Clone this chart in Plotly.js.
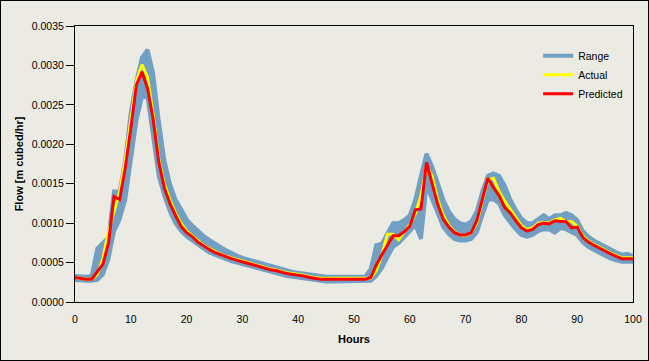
<!DOCTYPE html>
<html>
<head>
<meta charset="utf-8">
<script src="https://cdn.plot.ly/plotly-3.0.1.min.js"></script>
<style>
html,body{margin:0;padding:0;background:#ebebe3;}
#frame{width:647px;height:359px;border:1px solid #000;background:#ebebe3;}
#chart{width:647px;height:359px;}
</style>
</head>
<body>
<div id="frame"><div id="chart"></div></div>
<script>
var hours = [];
for (var h = 0; h <= 100; h++) hours.push(h);

var predicted = [0.00031,0.00030,0.00029,0.00029,0.00038,0.00048,0.00075,0.00134,0.00130,0.00170,
0.00220,0.00275,0.00292,0.00271,0.00232,0.00178,0.00145,0.00125,0.00110,0.00096,
0.00088,0.00083,0.00076,0.00071,0.00067,0.00063,0.00060,0.00057,0.00055,0.00053,
0.00051,0.00049,0.00047,0.00045,0.00043,0.00041,0.00040,0.00038,0.00036,0.00035,
0.00034,0.00033,0.00031,0.00030,0.00029,0.00029,0.00029,0.00029,0.00029,0.00029,
0.00029,0.00029,0.00029,0.00031,0.00047,0.00060,0.00072,0.00084,0.00084,0.00089,
0.00096,0.00117,0.00118,0.00177,0.00150,0.00124,0.00105,0.00095,0.00088,0.00085,
0.00085,0.00088,0.00103,0.00130,0.00157,0.00145,0.00135,0.00120,0.00113,0.00103,
0.00094,0.00090,0.00092,0.00098,0.00100,0.00099,0.00103,0.00102,0.00102,0.00094,
0.00095,0.00082,0.00076,0.00072,0.00068,0.00064,0.00061,0.00058,0.00055,0.00055,
0.00055];

var actual = [0.00031,0.00030,0.00029,0.00029,0.00035,0.00055,0.00090,0.00115,0.00140,0.00180,
0.00230,0.00280,0.00301,0.00285,0.00238,0.00182,0.00150,0.00130,0.00113,0.00100,
0.00090,0.00084,0.00077,0.00072,0.00068,0.00064,0.00061,0.00058,0.00056,0.00054,
0.00052,0.00050,0.00048,0.00046,0.00044,0.00042,0.00041,0.00039,0.00037,0.00036,
0.00035,0.00034,0.00032,0.00031,0.00030,0.00030,0.00030,0.00030,0.00030,0.00030,
0.00030,0.00030,0.00030,0.00030,0.00040,0.00060,0.00086,0.00086,0.00079,0.00088,
0.00098,0.00112,0.00135,0.00172,0.00160,0.00130,0.00110,0.00097,0.00089,0.00085,
0.00084,0.00088,0.00100,0.00128,0.00155,0.00157,0.00140,0.00128,0.00118,0.00107,
0.00097,0.00092,0.00094,0.00100,0.00101,0.00100,0.00104,0.00106,0.00102,0.00102,
0.00096,0.00084,0.00077,0.00073,0.00069,0.00065,0.00062,0.00059,0.00056,0.00056,
0.00056];

var rangeLow = [0.00028,0.00027,0.00027,0.00027,0.00028,0.00035,0.00055,0.00090,0.00105,0.00130,
0.00180,0.00230,0.00260,0.00260,0.00210,0.00160,0.00135,0.00115,0.00100,0.00090,
0.00083,0.00078,0.00072,0.00067,0.00063,0.00060,0.00057,0.00054,0.00052,0.00050,
0.00048,0.00046,0.00044,0.00042,0.00040,0.00038,0.00037,0.00035,0.00033,0.00032,
0.00031,0.00030,0.00028,0.00027,0.00026,0.00026,0.00026,0.00026,0.00026,0.00026,
0.00026,0.00026,0.00026,0.00027,0.00033,0.00043,0.00057,0.00070,0.00075,0.00082,
0.00090,0.00098,0.00080,0.00148,0.00130,0.00110,0.00095,0.00086,0.00080,0.00078,
0.00078,0.00080,0.00088,0.00110,0.00130,0.00130,0.00125,0.00110,0.00100,0.00092,
0.00085,0.00083,0.00085,0.00090,0.00092,0.00092,0.00088,0.00094,0.00092,0.00088,
0.00085,0.00076,0.00070,0.00066,0.00062,0.00058,0.00055,0.00053,0.00051,0.00051,
0.00051];

var rangeHigh = [0.00033,0.00032,0.00032,0.00033,0.00068,0.00075,0.00082,0.00140,0.00140,0.00180,
0.00240,0.00280,0.00310,0.00320,0.00290,0.00230,0.00180,0.00150,0.00130,0.00118,
0.00105,0.00097,0.00090,0.00084,0.00079,0.00074,0.00070,0.00066,0.00062,0.00059,
0.00056,0.00054,0.00051,0.00049,0.00047,0.00045,0.00043,0.00041,0.00040,0.00038,
0.00037,0.00036,0.00034,0.00033,0.00032,0.00032,0.00032,0.00032,0.00032,0.00032,
0.00032,0.00032,0.00032,0.00042,0.00072,0.00074,0.00088,0.00100,0.00100,0.00104,
0.00110,0.00130,0.00160,0.00188,0.00172,0.00150,0.00130,0.00115,0.00105,0.00100,
0.00098,0.00102,0.00115,0.00140,0.00160,0.00163,0.00160,0.00148,0.00130,0.00117,
0.00106,0.00100,0.00100,0.00105,0.00110,0.00105,0.00110,0.00110,0.00113,0.00110,
0.00104,0.00090,0.00083,0.00078,0.00074,0.00070,0.00066,0.00063,0.00060,0.00061,
0.00058];

var yTicks = [0,0.0005,0.001,0.0015,0.002,0.0025,0.003,0.0035];
var xTicks = [0,10,20,30,40,50,60,70,80,90,100];

var blue = 'rgb(114,159,196)';
var traces = [
  {x: hours, y: rangeLow, mode: 'lines', name: 'Range', line: {color: blue, width: 4}, showlegend: true},
  {x: hours, y: rangeHigh, mode: 'lines', name: 'RangeHigh', line: {color: blue, width: 4}, fill: 'tonexty', fillcolor: blue, showlegend: false},
  {x: hours, y: actual, mode: 'lines', name: 'Actual', line: {color: '#ffff00', width: 3}},
  {x: hours, y: predicted, mode: 'lines', name: 'Predicted', line: {color: '#ff0000', width: 3}}
];

var font = {family: 'Liberation Sans, Arial, sans-serif', size: 10.5, color: '#000'};
var layout = {
  width: 647, height: 359,
  margin: {l: 74, r: 15, t: 25, b: 58, pad: 0},
  paper_bgcolor: '#ebebe3', plot_bgcolor: '#ebebe3',
  font: font,
  showlegend: true,
  legend: {x: 0.83, y: 0.945, xanchor: 'left', yanchor: 'top', traceorder: 'normal', bgcolor: 'rgba(0,0,0,0)', borderwidth: 0, font: font, tracegroupgap: 0},
  xaxis: {
    range: [0, 100], tickvals: xTicks, ticktext: xTicks.map(String),
    ticks: '', showgrid: false, zeroline: false,
    showline: true, linecolor: '#000', linewidth: 1, mirror: true,
    tickfont: font, ticklabelstandoff: 7,
    title: {text: '<b>Hours</b>', font: {family: 'Liberation Sans, Arial, sans-serif', size: 11, color: '#000'}, standoff: 11}
  },
  yaxis: {
    range: [0, 0.0035], tickvals: yTicks, ticktext: yTicks.map(function(v){return v.toFixed(4);}),
    ticks: 'outside', ticklen: 8, tickcolor: '#000', tickwidth: 1,
    showgrid: false, zeroline: false,
    showline: true, linecolor: '#000', linewidth: 1, mirror: true,
    tickfont: font,
    title: {text: '<b>Flow [m cubed/hr]</b>', font: {family: 'Liberation Sans, Arial, sans-serif', size: 11, color: '#000'}, standoff: 5}
  }
};

Plotly.newPlot('chart', traces, layout, {displayModeBar: false, staticPlot: true});
</script>
</body>
</html>
